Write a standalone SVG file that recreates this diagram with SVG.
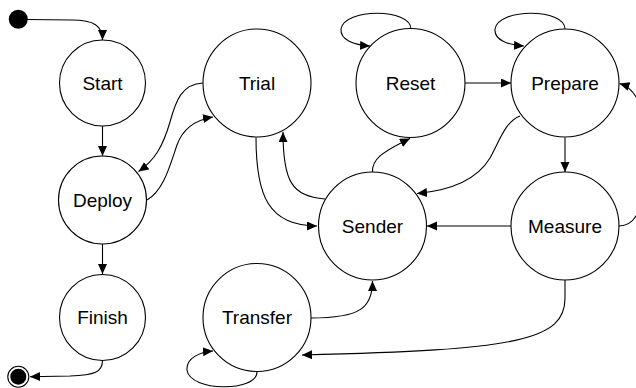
<svg xmlns="http://www.w3.org/2000/svg" width="636" height="388" viewBox="0 0 636 388">
<style>
.n{fill:#fff;stroke:#000;stroke-width:1.1}
.t{font-family:"Liberation Sans",Arial,sans-serif;font-size:19px;fill:#000;text-anchor:middle}
.e{fill:none;stroke:#000;stroke-width:1.1}
</style>
<defs>
<marker id="a" markerUnits="userSpaceOnUse" markerWidth="11" markerHeight="10" refX="10" refY="4.5" orient="auto">
<path d="M0,0 L10,4.5 L0,9 z" fill="#000"/>
</marker>
</defs>
<g id="connectors">
<path class="e" marker-end="url(#a)" d="M27,19.5 L72,20 C94,20 102.5,26 102.5,40"/>
<path class="e" marker-end="url(#a)" d="M102.5,126 L102.5,156"/>
<path class="e" marker-end="url(#a)" d="M102.5,244 L102.5,274"/>
<path class="e" marker-end="url(#a)" d="M102.5,360.5 C102.5,372 95,375 70,376 L30,376.7"/>
<path class="e" marker-end="url(#a)" d="M203,83 C182,84 176,100 170,122 C163,146 155,160 138.5,171.5"/>
<path class="e" marker-end="url(#a)" d="M147,200 C164,190 170,165 177,145 C183,128 195,120 213,117"/>
<path class="e" marker-end="url(#a)" d="M256,137.5 C256,195 268,226 317,226"/>
<path class="e" marker-end="url(#a)" d="M325,199 C292,196 283,182 283,132"/>
<path class="e" marker-end="url(#a)" d="M372.5,172 C372,160 380,153 410,138.5"/>
<path class="e" marker-end="url(#a)" d="M465,83 L511,83"/>
<path class="e" marker-end="url(#a)" d="M520,116 C505,122 500,140 490,158 C478,178 455,190 417,193.5"/>
<path class="e" marker-end="url(#a)" d="M565,137.5 L565,172"/>
<path class="e" marker-end="url(#a)" d="M511,226 L427,226"/>
<path class="e" marker-end="url(#a)" d="M619,226 C640,226 645,200 645,155 C645,112 640,90 619.5,83.5"/>
<path class="e" marker-end="url(#a)" d="M565,280 L565,298 C565,340 520,350 302,355"/>
<path class="e" marker-end="url(#a)" d="M311,318 C360,318 372.5,308 372.5,281"/>
<path class="e" marker-end="url(#a)" d="M411,29 C411,8 344,8 341,29 C340,40 354,45 370,46"/>
<path class="e" marker-end="url(#a)" d="M565,29 C565,8 498,8 495,29 C494,40 508,45 524,46"/>
<path class="e" marker-end="url(#a)" d="M257,372 C257,392 190,392 187,370 C186,358 200,352 213,351"/>
</g>
<g id="initial"><circle cx="18.3" cy="19.3" r="9.5" fill="#000"/></g>
<g id="final"><circle cx="18.3" cy="376.7" r="10.5" fill="#fff" stroke="#000" stroke-width="1.1"/><circle cx="18.3" cy="376.7" r="8" fill="#000"/></g>
<g id="start"><circle class="n" cx="102.5" cy="83" r="43"/><text class="t" x="102.5" y="89.5">Start</text></g>
<g id="deploy"><circle class="n" cx="102.5" cy="200" r="44"/><text class="t" x="102.5" y="206.5">Deploy</text></g>
<g id="finish"><circle class="n" cx="102.5" cy="317.5" r="43"/><text class="t" x="102.5" y="324">Finish</text></g>
<g id="trial"><circle class="n" cx="257" cy="83" r="54"/><text class="t" x="257" y="89.5">Trial</text></g>
<g id="reset"><circle class="n" cx="410.5" cy="83" r="54.5"/><text class="t" x="410.5" y="89.5">Reset</text></g>
<g id="prepare"><circle class="n" cx="565" cy="83" r="54"/><text class="t" x="565" y="89.5">Prepare</text></g>
<g id="sender"><circle class="n" cx="372.5" cy="226" r="54"/><text class="t" x="372.5" y="232.5">Sender</text></g>
<g id="measure"><circle class="n" cx="565" cy="226" r="54"/><text class="t" x="565" y="232.5">Measure</text></g>
<g id="transfer"><circle class="n" cx="257" cy="317.5" r="54"/><text class="t" x="257" y="324">Transfer</text></g>
</svg>
